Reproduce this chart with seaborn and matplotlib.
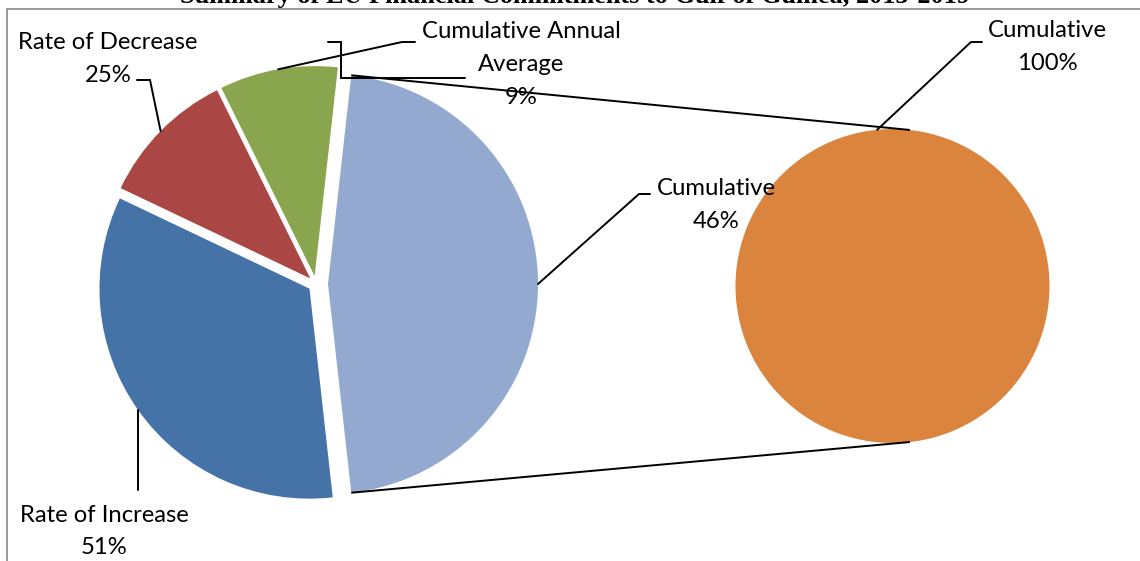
import textwrap
import numpy as np
import matplotlib
matplotlib.use("Agg")
import matplotlib.pyplot as plt
import seaborn as sns

# Main pie: slice shares as drawn, and the percentages printed in the labels
categories = ["Rate of Increase", "Rate of Decrease", "Cumulative Annual Average", "Cumulative"]
shares = [33.5, 10.5, 9.0, 46.0]
label_pcts = [51, 25, 9, 46]

# Secondary pie breaking out the "Cumulative" slice
detail_categories = ["Cumulative"]
detail_shares = [100.0]
detail_pcts = [100]

title = "Summary of EU Financial Commitments to Gulf of Guinea, 2013-2019"

sns.set_theme(style="white")
plt.rcParams["font.family"] = ["Lato", "DejaVu Sans"]

palette = ["#4572A7", "#AA4643", "#89A54E", "#93A9CF"]
colors = dict(zip(categories, palette))
detail_color = "#DB843D"

W, H = 1140, 561
fig = plt.figure(figsize=(W / 100, H / 100), dpi=100)
ax = fig.add_axes([0, 0, 1, 1])


def py(y):
    """Convert a row measured from the top edge to the axes' y."""
    return H - y


# slices run counter-clockwise from the broken-out one, centred on the right
order = [3, 2, 1, 0]
vals = [shares[i] for i in order]
start = -180.0 * shares[3] / sum(shares)
explode = [12, 8, 8, 8]  # offsets in axis units (pixels here)
center1, r1 = (316, py(284)), 210
wedges, _ = ax.pie(vals, colors=[colors[categories[i]] for i in order],
                   startangle=start, counterclock=True, explode=explode,
                   center=center1, radius=r1, frame=False,
                   wedgeprops=dict(linewidth=0))

center2, r2 = (892.5, py(286)), 157
wedges2, _ = ax.pie(detail_shares, colors=[detail_color], startangle=90,
                    center=center2, radius=r2, frame=False,
                    wedgeprops=dict(linewidth=0))

ax.set_xlim(0, W)
ax.set_ylim(0, H)
ax.set_aspect("equal")
ax.axis("off")


def arc_pt(center, r, ang):
    a = np.deg2rad(ang)
    return np.array([center[0] + r * np.cos(a), center[1] + r * np.sin(a)])


def wedge_pt(w, ang):
    return arc_pt(w.center, w.r, ang)


# connector lines between the broken-out slice and the secondary pie
w_cum = wedges[0]
for ang in (w_cum.theta1, w_cum.theta2):
    p1 = wedge_pt(w_cum, ang)
    p2 = arc_pt(center2, r2, ang)
    ax.plot([p1[0], p2[0]], [p1[1], p2[1]], color="black", lw=1.4,
            solid_capstyle="butt", zorder=3)

# label placement: centre x, first baseline row, and the leader's elbow points
label_fmt = dict(ha="center", va="baseline", fontsize=17.2, color="black", zorder=4)
pitch = 33

layout = {
    "Rate of Increase": dict(x=104, base=521.5, elbow=[(None, 490)]),
    "Rate of Decrease": dict(x=108, base=48.5, elbow=[(150, 80), (137, 80)]),
    "Cumulative Annual Average": dict(x=521, base=37.5, elbow=[(402, 42), (415, 42)]),
    "Cumulative": dict(x=716, base=195, elbow=[(639, 194), (650, 194)]),
}


def draw_label(x, base, lines):
    for k, line in enumerate(lines):
        ax.text(x, py(base + k * pitch), line, **label_fmt)


def draw_leader(points):
    xs = [p[0] for p in points]
    ys = [p[1] for p in points]
    ax.plot(xs, ys, color="black", lw=1.4, zorder=3, solid_joinstyle="miter")


for w, idx in zip(wedges, order):
    name = categories[idx]
    spec = layout[name]
    lines = textwrap.wrap(name, 17) + [f"{label_pcts[idx]}%"]
    draw_label(spec["x"], spec["base"], lines)
    mid = 0.5 * (w.theta1 + w.theta2)
    start_pt = wedge_pt(w, mid)
    pts = [start_pt]
    for ex, ey in spec["elbow"]:
        pts.append((start_pt[0] if ex is None else ex, py(ey)))
    draw_leader(pts)

# bracket-shaped leader beside the annual-average label
draw_leader([(328, py(42)), (341, py(42)), (341, py(78)), (465, py(78))])

# secondary pie label
d_lines = textwrap.wrap(detail_categories[0], 17) + [f"{detail_pcts[0]}%"]
draw_label(1047.5, 36.7, d_lines)
d_start = arc_pt(center2, r2, 95.6)
draw_leader([d_start, (971, py(42)), (982, py(42))])

# chart-area border (left and top edges)
ax.plot([7, 7], [py(8.5), 0], color="#878787", lw=1.2, zorder=2)
ax.plot([7, W], [py(8.5), py(8.5)], color="#878787", lw=1.2, zorder=2)

# title, running off the top edge
ax.text(575, py(2.5), title, ha="center", va="baseline", fontsize=18.9,
        fontweight="bold", family=["Liberation Serif", "DejaVu Serif"],
        color="black", clip_on=False)

fig.savefig("out.png", dpi=100, facecolor="white")
